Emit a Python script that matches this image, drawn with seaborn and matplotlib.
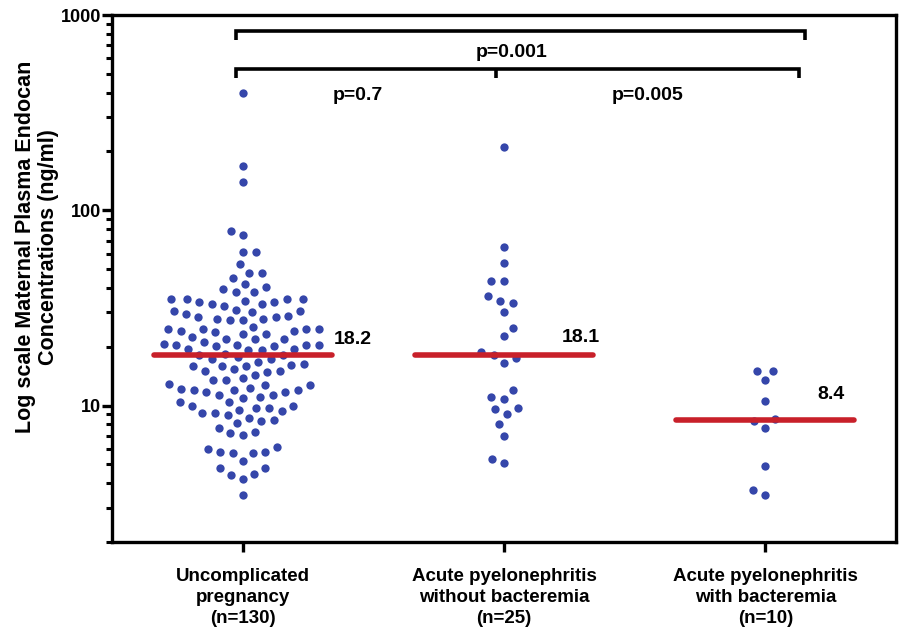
import numpy as np
import pandas as pd
import seaborn as sns
import matplotlib.pyplot as plt
import matplotlib.transforms as mtransforms
from matplotlib.ticker import FixedLocator, FuncFormatter, NullFormatter

# --- data (ng/ml) ---
group_labels = [
    "Uncomplicated\npregnancy\n(n=130)",
    "Acute pyelonephritis\nwithout bacteremia\n(n=25)",
    "Acute pyelonephritis\nwith bacteremia\n(n=10)",
]

uncomplicated = [
    400, 168, 139, 78, 74.5, 61, 61, 53, 48, 48, 44.8, 41.9, 40.5, 39.5, 38, 38,
    35.2, 35.2, 35.2, 33.8, 33.1, 32.5, 33.1, 33.8, 34.4, 35.2,
    30.6, 30.3, 28.9, 28.3, 27.8, 27.3, 27.3, 27.8, 28.3, 29.5, 30.6, 30.9,
    24.7, 24.7, 24.7, 24.7, 23.3, 22.0, 22.0, 22.4, 23.3, 23.8, 24.2, 24.2, 25.2,
    21.1, 20.5, 20.5, 20.1, 19.5, 19.2, 18.3, 19.2, 19.5, 20.1, 20.5, 20.5, 20.7, 21.8,
    18.1, 17.4, 16.7, 16.2, 15.9, 15.9, 15.9, 16.4, 17.4, 17.7, 18.1,
    15.1, 14.9, 13.8, 13.5, 13.5, 14.3, 15.1, 15.4,
    12.9, 12.7, 12.2, 12.0, 11.7, 11.7, 12.0, 12.0, 12.3, 12.7,
    11.3, 10.9, 10.4, 10.0, 9.7, 9.7, 10.0, 10.4, 11.1, 11.3,
    9.5, 9.2, 8.9, 8.4, 8.3, 8.6, 9.2, 9.4,
    8.1, 7.3, 7.1, 7.2, 7.7,
    6.15, 5.8, 5.7, 5.7, 5.75, 6.0,
    5.2, 4.8, 4.8, 4.4, 4.2, 4.45, 3.5,
]
without_bacteremia = [
    210, 65, 53.5, 43.6, 43.6, 36.3, 34.5, 33.5, 30.1, 25.0, 22.6, 18.8, 18.1,
    17.6, 16.6, 12.0, 11.0, 10.8, 9.7, 9.6, 9.0, 8.0, 7.0, 5.3, 5.06,
]
with_bacteremia = [15.1, 15.1, 13.5, 10.6, 8.5, 8.3, 7.7, 4.9, 3.7, 3.5]

p_labels = ["p=0.001", "p=0.7", "p=0.005"]

df = pd.DataFrame({
    "group": [group_labels[0]] * len(uncomplicated)
    + [group_labels[1]] * len(without_bacteremia)
    + [group_labels[2]] * len(with_bacteremia),
    "value": uncomplicated + without_bacteremia + with_bacteremia,
})

sns.set_theme(style="ticks")
plt.rcParams["font.family"] = ["Liberation Sans", "DejaVu Sans"]
plt.rcParams["font.weight"] = "bold"
plt.rcParams["text.color"] = "black"
plt.rcParams["axes.labelcolor"] = "black"
plt.rcParams["xtick.color"] = "black"
plt.rcParams["ytick.color"] = "black"

fig = plt.figure(figsize=(8.99, 6.36), dpi=100)
ax = fig.add_axes([112 / 899, 1 - 542 / 636, (896 - 112) / 899, (542 - 15) / 636])
ax.set_yscale("log")
ax.set_ylim(2, 1000)
ax.set_xlim(-0.5, 2.5)

blue = "#3546aa"
red = "#c8202a"
sns.swarmplot(data=df, x="group", y="value", order=group_labels, color=blue,
              size=7.4, linewidth=1.4, edgecolor="white", ax=ax)
ax.set_ylim(2, 1000)
ax.set_xlim(-0.5, 2.5)

# median lines and labels
label_dx = [0.35, 0.22, 0.20]
label_ratio = [1.2, 1.23, 1.36]
for i, vals in enumerate([uncomplicated, without_bacteremia, with_bacteremia]):
    med = np.median(vals)
    ax.plot([i - 0.34, i + 0.34], [med, med], color=red, lw=4, solid_capstyle="round", zorder=5)
    ax.text(i + label_dx[i], med * label_ratio[i], f"{med:.1f}", fontsize=14,
            fontweight="bold", ha="left", va="center", color="black")

# brackets
trans = mtransforms.blended_transform_factory(ax.transData, ax.transAxes)
kw = dict(color="black", lw=2.6, transform=trans, clip_on=False,
          solid_capstyle="butt", solid_joinstyle="miter")
ax.plot([-0.025, -0.025, 2.15, 2.15], [0.952, 0.970, 0.970, 0.952], **kw)
ax.plot([-0.025, -0.025, 2.13, 2.13], [0.880, 0.8975, 0.8975, 0.880], **kw)
ax.plot([0.97, 0.97], [0.8975, 0.880], **kw)
ax.text(1.03, 0.928, p_labels[0], transform=trans, ha="center", va="center",
        fontsize=14, fontweight="bold", color="black")
ax.text(0.44, 0.848, p_labels[1], transform=trans, ha="center", va="center",
        fontsize=14, fontweight="bold", color="black")
ax.text(1.55, 0.848, p_labels[2], transform=trans, ha="center", va="center",
        fontsize=14, fontweight="bold", color="black")

# axes styling
for sp in ax.spines.values():
    sp.set_visible(True)
    sp.set_linewidth(2.4)
    sp.set_color("black")
ax.yaxis.set_major_locator(FixedLocator([10, 100, 1000]))
ax.yaxis.set_major_formatter(FuncFormatter(lambda v, p: f"{v:.0f}"))
minor = [m * d for d in [1, 10, 100] for m in range(2, 10)]
ax.yaxis.set_minor_locator(FixedLocator(minor))
ax.yaxis.set_minor_formatter(NullFormatter())
ax.tick_params(axis="y", which="major", length=7, width=2.4, labelsize=13, pad=1,
               color="black", labelcolor="black")
ax.tick_params(axis="y", which="minor", length=4.5, width=2.2, color="black")
ax.tick_params(axis="x", which="major", length=7, width=2.4, pad=12, color="black",
               labelcolor="black")
for lab in ax.get_yticklabels():
    lab.set_fontweight("bold")
for lab in ax.get_xticklabels():
    lab.set_fontweight("bold")
    lab.set_fontsize(13.5)
    lab.set_linespacing(1.3)
ax.set_xlabel("")
ax.set_ylabel("Log scale Maternal Plasma Endocan\nConcentrations (ng/ml)",
              fontsize=15.5, fontweight="bold", linespacing=1.1, color="black")
ax.yaxis.set_label_coords(-0.068, 0.56)

fig.savefig("out.png", dpi=100)
